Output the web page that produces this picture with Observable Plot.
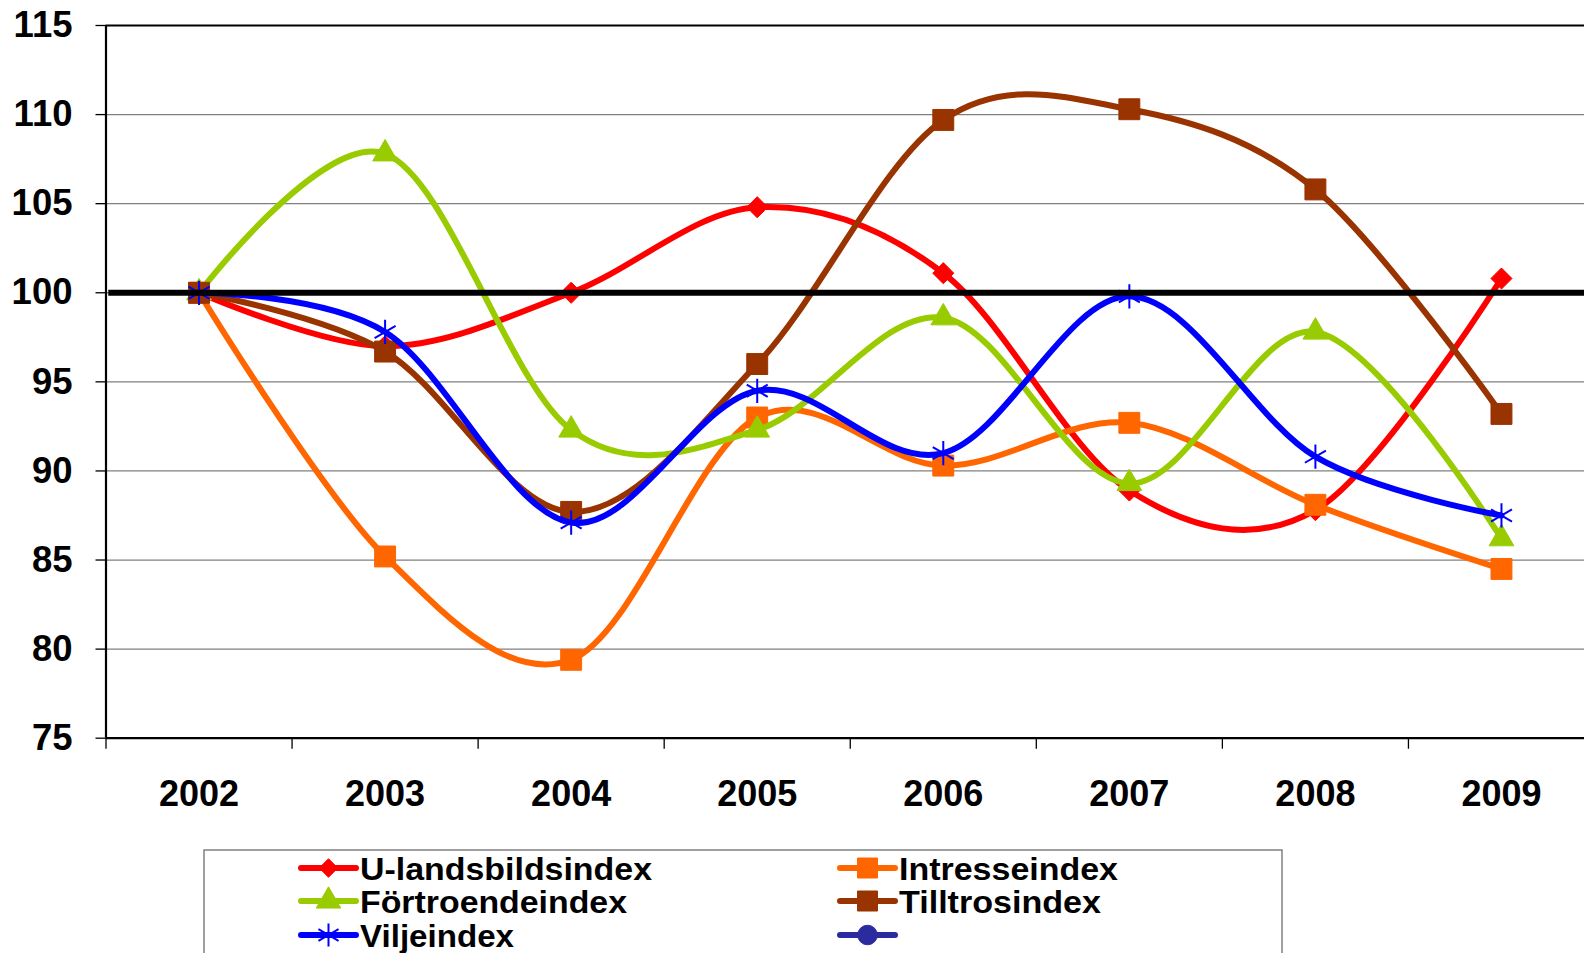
<!DOCTYPE html>
<html>
<head>
<meta charset="utf-8">
<script src="https://cdn.jsdelivr.net/npm/d3@7"></script>
<script src="https://cdn.jsdelivr.net/npm/@observablehq/plot@0.6"></script>
<style>
  html, body { margin: 0; padding: 0; background: #fff; overflow: hidden; }
  #wrap { position: relative; width: 1584px; height: 953px; overflow: hidden; }
  #chart { position: absolute; left: 0; top: 0; width: 1594px; }
  #chart svg { max-width: none !important; }
  #legend { position: absolute; left: 0; top: 0; }
</style>
</head>
<body>
<div id="wrap">
  <div id="chart"></div>
  <svg id="legend" width="1584" height="953"></svg>
</div>
<script>
// ---- data ----
const years = [2002, 2003, 2004, 2005, 2006, 2007, 2008, 2009];
const uLandsbildsindex = [100, 97.0, 100, 104.8, 101.1, 88.9, 87.8, 100.8];
const intresseindex    = [100, 85.2, 79.4, 93.0, 90.3, 92.7, 88.1, 84.5];
const fortroendeindex  = [100, 107.8, 92.3, 92.3, 98.6, 89.3, 97.8, 86.2];
const tilltrosindex    = [100, 96.7, 87.7, 96.0, 109.7, 110.3, 105.8, 93.2];
const viljeindex       = [100, 97.8, 87.1, 94.5, 91.0, 99.8, 90.8, 87.5];
const seriesNames = ["U-landsbildsindex", "Intresseindex", "Förtroendeindex", "Tilltrosindex", "Viljeindex", ""];
const yTicks = [75, 80, 85, 90, 95, 100, 105, 110, 115];
const referenceValue = 100;

// ---- styles ----
const FONT = "'Liberation Sans', Arial, sans-serif";
const seriesStyle = [
  {values: uLandsbildsindex, color: "#FF0000", symbol: "diamond2", r: 9.5},
  {values: intresseindex,    color: "#FF6600", symbol: "square",   r: 11.8},
  {values: fortroendeindex,  color: "#99CC00", symbol: "triangle", r: 9.2},
  {values: tilltrosindex,    color: "#993300", symbol: "square",   r: 11.8},
  {values: viljeindex,       color: "#0000FF", symbol: "asterisk", r: 11.5}
];

const rows = (vals) => years.map((y, i) => ({year: y, value: vals[i]}));
const halfTicks = years.map(y => y - 0.5).concat([years[years.length - 1] + 0.5]);

const marks = [
  Plot.gridY(yTicks.filter(v => v > 75 && v < 115), {stroke: "#808080", strokeOpacity: 1, strokeWidth: 1.3}),
  Plot.ruleY([115], {stroke: "#000", strokeWidth: 2}),
  Plot.ruleY([75], {stroke: "#000", strokeWidth: 2.2}),
  Plot.ruleX([years[0] - 0.5], {stroke: "#000", strokeWidth: 2.2}),
  Plot.axisY({ticks: yTicks, tickSize: 10, tickPadding: 23.5, fontSize: 36.5, fontWeight: "bold", fill: "#000", stroke: "#000", strokeWidth: 1.3, label: null}),
  Plot.axisX({ticks: years, tickSize: 0, tickPadding: 42, tickFormat: d => String(d), fontSize: 36, fontWeight: "bold", fill: "#000", label: null}),
  Plot.axisX({ticks: halfTicks, tickSize: 11, tickFormat: () => "", stroke: "#000", strokeWidth: 1.3, label: null})
];

for (const s of seriesStyle) {
  const data = rows(s.values);
  marks.push(Plot.line(data, {x: "year", y: "value", stroke: s.color, strokeWidth: 6, curve: "cardinal", tension: 0}));
  if (s.symbol === "asterisk") {
    marks.push(Plot.dot(data, {x: "year", y: "value", symbol: "asterisk", r: s.r, stroke: s.color, strokeWidth: 2, fill: "none"}));
  } else {
    marks.push(Plot.dot(data, {x: "year", y: "value", symbol: s.symbol, r: s.r, fill: s.color, stroke: s.color, strokeWidth: 1}));
  }
}
marks.push(Plot.ruleY([referenceValue], {x1: years[0] - 0.485, x2: years[years.length - 1] + 0.5, stroke: "#000", strokeWidth: 6}));

const chart = Plot.plot({
  width: 1594,
  height: 820,
  marginLeft: 105.5,
  marginRight: 0,
  marginTop: 25,
  marginBottom: 82.3,
  x: {type: "linear", domain: [years[0] - 0.5, years[years.length - 1] + 0.5], axis: null},
  y: {domain: [75, 115], axis: null},
  style: {fontFamily: FONT, background: "transparent", color: "#000", overflow: "visible", maxWidth: "none"},
  marks
});
document.getElementById("chart").appendChild(chart);

// ---- legend ----
const legend = d3.select("#legend");
legend.append("rect")
  .attr("x", 204).attr("y", 850).attr("width", 1078).attr("height", 140)
  .attr("fill", "#fff").attr("stroke", "#808080").attr("stroke-width", 1.5);

const legendItems = [
  {name: seriesNames[0], color: "#FF0000", symbol: d3.symbolDiamond2, size: 220, col: 0, row: 0, tl: 292},
  {name: seriesNames[1], color: "#FF6600", symbol: d3.symbolSquare, size: 400, col: 1, row: 0, tl: 219},
  {name: seriesNames[2], color: "#99CC00", symbol: d3.symbolTriangle, size: 260, col: 0, row: 1, tl: 267},
  {name: seriesNames[3], color: "#993300", symbol: d3.symbolSquare, size: 400, col: 1, row: 1, tl: 202},
  {name: seriesNames[4], color: "#0000FF", symbol: d3.symbolAsterisk, size: 380, col: 0, row: 2, tl: 154},
  {name: seriesNames[5], color: "#2B2BA0", symbol: d3.symbolCircle, size: 300, col: 1, row: 2, tl: 0}
];
const colX = [301, 840];
const rowY = [868, 901, 935];
for (const it of legendItems) {
  const x0 = colX[it.col], y0 = rowY[it.row];
  const g = legend.append("g");
  g.append("line").attr("x1", x0).attr("x2", x0 + 55).attr("y1", y0).attr("y2", y0)
    .attr("stroke", it.color).attr("stroke-width", 6).attr("stroke-linecap", "round");
  const isStroke = it.symbol === d3.symbolAsterisk;
  g.append("path").attr("d", d3.symbol(it.symbol, it.size)())
    .attr("transform", `translate(${x0 + 27.5},${y0})`)
    .attr("fill", isStroke ? "none" : it.color)
    .attr("stroke", it.color).attr("stroke-width", isStroke ? 2 : 1);
  if (it.name) {
    g.append("text").attr("x", x0 + 59).attr("y", y0).attr("dy", "0.36em")
      .attr("font-family", FONT).attr("font-weight", "bold").attr("font-size", 32)
      .attr("textLength", it.tl).attr("lengthAdjust", "spacingAndGlyphs")
      .attr("fill", "#000").text(it.name);
  }
}
</script>
</body>
</html>
